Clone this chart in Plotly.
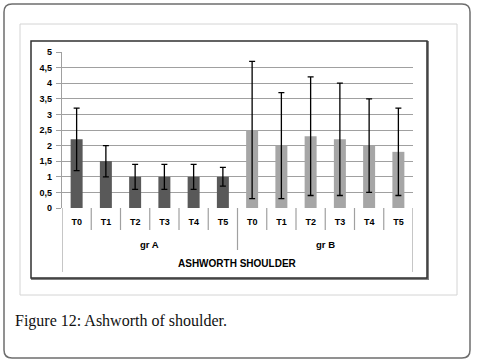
import plotly.graph_objects as go

# ---- data ----
time_labels = ["T0", "T1", "T2", "T3", "T4", "T5"]
group_labels = ["gr A", "gr B"]
grA_values = [2.2, 1.5, 1.0, 1.0, 1.0, 1.0]
grA_err_plus = [1.0, 0.5, 0.4, 0.4, 0.4, 0.3]
grA_err_minus = [1.0, 0.5, 0.4, 0.4, 0.4, 0.3]
grB_values = [2.5, 2.0, 2.3, 2.2, 2.0, 1.8]
grB_err_plus = [2.2, 1.7, 1.9, 1.8, 1.5, 1.4]
grB_err_minus = [2.2, 1.7, 1.9, 1.8, 1.5, 1.4]
y_tickvals = [0, 0.5, 1, 1.5, 2, 2.5, 3, 3.5, 4, 4.5, 5]
y_ticktext = ["0", "0,5", "1", "1,5", "2", "2,5", "3", "3,5", "4", "4,5", "5"]
axis_title = "ASHWORTH SHOULDER"
caption = "Figure 12: Ashworth of shoulder."

# ---- layout constants (pixels) ----
W, H = 478, 364
PL, PR, PT, PB = 62, 413, 52, 208  # plot area

def px(x):
    return (x - PL) / (PR - PL)

def py(y):
    return (PB - y) / (PB - PT)

n = len(time_labels)
xA = list(range(n))
xB = list(range(n, 2 * n))

font_chart = "Liberation Sans"

fig = go.Figure()
fig.add_trace(go.Bar(
    x=xA, y=grA_values, width=0.41, marker=dict(color="#595959", line=dict(width=0)),
    error_y=dict(type="data", symmetric=False, array=grA_err_plus, arrayminus=grA_err_minus,
                 color="#000000", thickness=1.3, width=3),
    name=group_labels[0], showlegend=False))
fig.add_trace(go.Bar(
    x=xB, y=grB_values, width=0.41, marker=dict(color="#a6a6a6", line=dict(width=0)),
    error_y=dict(type="data", symmetric=False, array=grB_err_plus, arrayminus=grB_err_minus,
                 color="#000000", thickness=1.3, width=3),
    name=group_labels[1], showlegend=False))

shapes = []
# outer rounded frame
x0, y0, x1, y1, r = 4, 4, 470, 358, 8
path = (f"M {px(x0+r)},{py(y0)} L {px(x1-r)},{py(y0)} Q {px(x1)},{py(y0)} {px(x1)},{py(y0+r)} "
        f"L {px(x1)},{py(y1-r)} Q {px(x1)},{py(y1)} {px(x1-r)},{py(y1)} "
        f"L {px(x0+r)},{py(y1)} Q {px(x0)},{py(y1)} {px(x0)},{py(y1-r)} "
        f"L {px(x0)},{py(y0+r)} Q {px(x0)},{py(y0)} {px(x0+r)},{py(y0)} Z")
shapes.append(dict(type="path", xref="paper", yref="paper", path=path,
                   line=dict(color="#6e6e6e", width=1.5), layer="below"))
# inner light box
shapes.append(dict(type="rect", xref="paper", yref="paper", x0=px(20), x1=px(457), y0=py(24), y1=py(295),
                   line=dict(color="#d4d4d4", width=1), layer="below"))
# chart box shadow + border
shapes.append(dict(type="rect", xref="paper", yref="paper", x0=px(32), x1=px(428), y0=py(42), y1=py(279),
                   line=dict(color="#808080", width=2), layer="below"))
shapes.append(dict(type="rect", xref="paper", yref="paper", x0=px(31), x1=px(427), y0=py(41), y1=py(278),
                   line=dict(color="#303030", width=1.5), fillcolor="white", layer="below"))
# category dividers
for i in range(2 * n + 1):
    xb = i - 0.5
    if i == 0 or i == 2 * n:
        yb = 272
    elif i == n:
        yb = 250
    else:
        yb = 230
    shapes.append(dict(type="line", xref="x", yref="paper", x0=xb, x1=xb, y0=0, y1=py(yb),
                       line=dict(color="#a0a0a0", width=1.2)))

annotations = []
for g, c in zip(group_labels, [(n - 1) / 2, n + (n - 1) / 2]):
    annotations.append(dict(x=c, y=py(244), xref="x", yref="paper", text=f"<b>{g}</b>", showarrow=False,
                            yanchor="middle", font=dict(family=font_chart, size=9.5, color="#000")))
annotations.append(dict(x=(2 * n - 1) / 2, y=py(263), xref="x", yref="paper", text=f"<b>{axis_title}</b>",
                        showarrow=False, yanchor="middle",
                        font=dict(family=font_chart, size=10, color="#000")))
annotations.append(dict(x=px(13), y=py(321), xref="paper", yref="paper", text=caption, showarrow=False,
                        xanchor="left", yanchor="middle",
                        font=dict(family="Liberation Serif", size=16, color="#111")))

fig.update_layout(
    width=W, height=H, margin=dict(l=PL, r=W - PR, t=PT, b=H - PB, pad=0),
    paper_bgcolor="white", plot_bgcolor="rgba(0,0,0,0)", barmode="overlay",
    shapes=shapes, annotations=annotations,
    xaxis=dict(range=[-0.5, 2 * n - 0.5], tickvals=xA + xB,
               ticktext=[f"<b>{t}</b>" for t in time_labels + time_labels],
               showgrid=False, zeroline=False, showline=False, ticks="", ticklabelstandoff=7,
               tickfont=dict(family=font_chart, size=9, color="#000")),
    yaxis=dict(range=[0, 5], tickvals=y_tickvals, ticktext=[f"<b>{t}</b>" for t in y_ticktext],
               showgrid=True, gridcolor="#a0a0a0", gridwidth=1.2, zeroline=False,
               showline=True, linecolor="#a0a0a0", linewidth=1.2,
               ticks="outside", ticklen=5, tickcolor="#a0a0a0", tickwidth=1.2, ticklabelstandoff=2,
               tickfont=dict(family=font_chart, size=9, color="#000")),
)
fig.write_html("out.html", config={"displayModeBar": False},
               post_script="document.body.style.margin='0';document.body.style.overflow='hidden';")
